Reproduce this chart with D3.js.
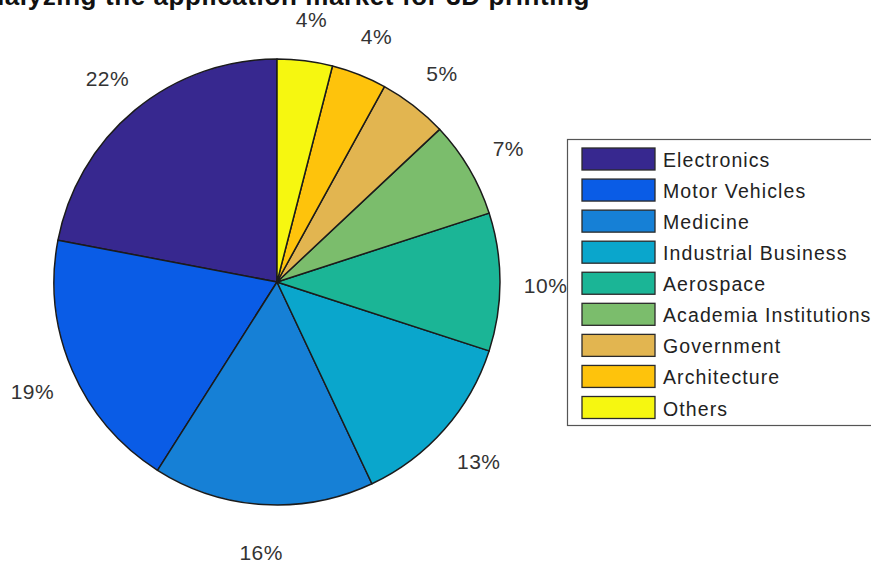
<!DOCTYPE html>
<html>
<head>
<meta charset="utf-8">
<script src="https://cdn.jsdelivr.net/npm/d3@7"></script>
<style>
  html, body { margin: 0; padding: 0; background: #fff; }
  svg { display: block; font-family: "Liberation Sans", Arial, sans-serif; }
</style>
</head>
<body>
<svg id="chart" width="871" height="569"></svg>
<script>
// Application market shares for 3D printing (percent)
const categories = ["Electronics", "Motor Vehicles", "Medicine", "Industrial Business",
  "Aerospace", "Academia Institutions", "Government", "Architecture", "Others"];
const shares = [22, 19, 16, 13, 10, 7, 5, 4, 4];
const sliceColors = ["#37288f", "#0a5ce6", "#1680d6", "#0aa6cc", "#1bb596",
  "#7bbd6c", "#e2b550", "#fec30c", "#f6f710"];
const titleText = "Analyzing the application market for 3D printing";

const svg = d3.select("#chart");
const cx = 277, cy = 282, radius = 223;

const color = d3.scaleOrdinal().domain(categories).range(sliceColors);

// Title (runs off the top edge of the canvas)
svg.append("text")
  .attr("x", 590).attr("y", 5)
  .attr("text-anchor", "end")
  .attr("font-size", 26).attr("font-weight", "bold")
  .attr("letter-spacing", 0.6)
  .attr("fill", "#111")
  .text(titleText);

// Slices run counter-clockwise from 12 o'clock
const pie = d3.pie().sort(null).startAngle(0).endAngle(-2 * Math.PI);
const arcs = pie(shares).map((d, i) => Object.assign(d, { name: categories[i] }));
const arc = d3.arc().innerRadius(0).outerRadius(radius);

const g = svg.append("g").attr("transform", `translate(${cx},${cy})`);
g.selectAll("path.slice").data(arcs).join("path")
  .attr("class", "slice")
  .attr("d", arc)
  .attr("fill", d => color(d.name))
  .attr("stroke", "#1b1b1b")
  .attr("stroke-width", 1.5)
  .attr("stroke-linejoin", "round");

// Percentage labels at 1.2 × radius along each slice's mid-angle
const labelR = radius * 1.2;
g.selectAll("text.pct").data(arcs).join("text")
  .attr("class", "pct")
  .attr("x", d => Math.sin((d.startAngle + d.endAngle) / 2) * labelR + 1)
  .attr("y", d => -Math.cos((d.startAngle + d.endAngle) / 2) * labelR + 3)
  .attr("text-anchor", "middle")
  .attr("dominant-baseline", "central")
  .attr("font-size", 21)
  .attr("letter-spacing", 0.5)
  .attr("fill", "#333")
  .text(d => d.data + "%");

// Legend
const legX = 567, legY = 139, legW = 306, legH = 286;
const leg = svg.append("g");
leg.append("rect")
  .attr("x", legX + 0.5).attr("y", legY + 0.5)
  .attr("width", legW).attr("height", legH)
  .attr("fill", "#fff").attr("stroke", "#555").attr("stroke-width", 1.2);

const rowY = d3.scalePoint().domain(categories).range([159, 407.5]);
const rows = leg.selectAll("g.row").data(categories).join("g")
  .attr("class", "row")
  .attr("transform", d => `translate(0,${rowY(d)})`);
rows.append("rect")
  .attr("x", 582).attr("y", -11)
  .attr("width", 73).attr("height", 22)
  .attr("fill", d => color(d))
  .attr("stroke", "#2a2a2a").attr("stroke-width", 1.3);
rows.append("text")
  .attr("x", 663).attr("y", 1)
  .attr("dominant-baseline", "central")
  .attr("font-size", 19.5)
  .attr("letter-spacing", 1.1)
  .attr("fill", "#222")
  .text(d => d);
</script>
</body>
</html>
